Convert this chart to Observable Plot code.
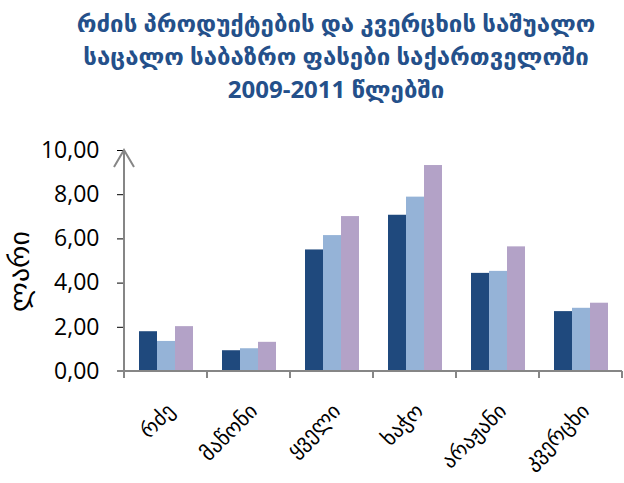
<!DOCTYPE html>
<html><head><meta charset="utf-8">
<script src="https://cdn.jsdelivr.net/npm/d3@7"></script>
<script src="https://cdn.jsdelivr.net/npm/@observablehq/plot@0.6"></script>
<style>
body{margin:0;background:#fff;font-family:"Open Sans","DejaVu Sans",sans-serif;}
#title{height:115px;box-sizing:border-box;padding-top:6px;padding-left:48px;text-align:center;color:#24508a;font-weight:bold;font-size:24px;line-height:33px;}
#title div{white-space:nowrap}
</style></head><body>
<div id="title"></div><div id="chart"></div>
<script>
const titleLines = ["რძის პროდუქტების და კვერცხის საშუალო", "საცალო საბაზრო ფასები საქართველოში", "2009-2011 წლებში"];
const categories = ["რძე", "მაწონი", "ყველი", "ხაჭო", "არაჟანი", "კვერცხი"];
const years = ["2009", "2010", "2011"];
const v2009 = [1.80, 0.94, 5.50, 7.07, 4.44, 2.71];
const v2010 = [1.36, 1.03, 6.15, 7.89, 4.53, 2.86];
const v2011 = [2.03, 1.32, 7.01, 9.32, 5.64, 3.09];
const yTicks = [0, 2, 4, 6, 8, 10];
const yLabel = "ლარი";
const colors = ["#1f497d", "#95b3d7", "#b3a2c7"];

const t = document.getElementById("title");
titleLines.forEach(l => { const d = document.createElement("div"); d.textContent = l; t.appendChild(d); });

const series = [v2009, v2010, v2011];
const rows = [];
categories.forEach((c, i) => years.forEach((y, j) => rows.push({category: c, year: y, value: series[j][i]})));

const fmt = d => d.toFixed(2).replace(".", ",");
const plot = Plot.plot({
  width: 624, height: 368,
  marginLeft: 123, marginRight: 1, marginTop: 35, marginBottom: 112,
  style: {fontSize: "23px", fontFamily: "'Open Sans','DejaVu Sans',sans-serif", color: "#000", background: "#fff"},
  facet: {data: rows, x: "category"},
  fx: {domain: categories, padding: 0, label: null, tickRotate: -45, tickSize: 0, tickPadding: 36},
  x: {domain: years, paddingInner: 0, paddingOuter: 0.75, axis: null},
  y: {domain: [0, 10], ticks: yTicks, tickFormat: fmt, label: null, tickSize: 7, tickPadding: 18},
  color: {domain: years, range: colors},
  marks: [
    Plot.barY(rows, {x: "year", y: "value", fill: "year", inset: 0})
  ]
});
document.getElementById("chart").appendChild(plot);

const svg = d3.select(plot.tagName.toLowerCase() === "svg" ? plot : plot.querySelector("svg"));
svg.selectAll("line").filter(function(){ return this.closest('g[aria-label^="y-axis"]'); }).attr("stroke", "#868686").attr("stroke-width", 2).attr("stroke-opacity", 1);
svg.selectAll('g[aria-label^="fx-axis"] text').style("font-size", "21px");
svg.selectAll('g[aria-label^="fx-axis"]').each(function(){
  const tr = this.getAttribute("transform") || "";
  this.setAttribute("transform", "translate(5,0) " + tr);
});
const ys = plot.scale("y"), fxs = plot.scale("fx");
const y0 = ys.apply(0), yTop = ys.apply(10);
const x0 = fxs.apply(categories[0]);
const xEnd = fxs.apply(categories[categories.length - 1]) + fxs.bandwidth;
const ax = svg.append("g").attr("stroke", "#868686").attr("stroke-width", 2).attr("fill", "none");
ax.append("line").attr("x1", x0 - 7).attr("x2", xEnd).attr("y1", y0).attr("y2", y0);
ax.append("line").attr("x1", x0).attr("x2", x0).attr("y1", y0 + 7).attr("y2", yTop);
ax.append("path").attr("d", `M${x0 - 10},${yTop + 17}L${x0},${yTop}L${x0 + 10},${yTop + 17}`);
categories.forEach(c => {
  const xb = fxs.apply(c) + fxs.bandwidth;
  ax.append("line").attr("x1", xb).attr("x2", xb).attr("y1", y0).attr("y2", y0 + 7);
});
svg.append("text").attr("transform", `translate(22,${(y0 + yTop) / 2 + 11}) rotate(-90)`)
  .attr("text-anchor", "middle").attr("dominant-baseline", "middle")
  .style("font-size", "28px").attr("fill", "#000").text(yLabel);
</script>
</body></html>
